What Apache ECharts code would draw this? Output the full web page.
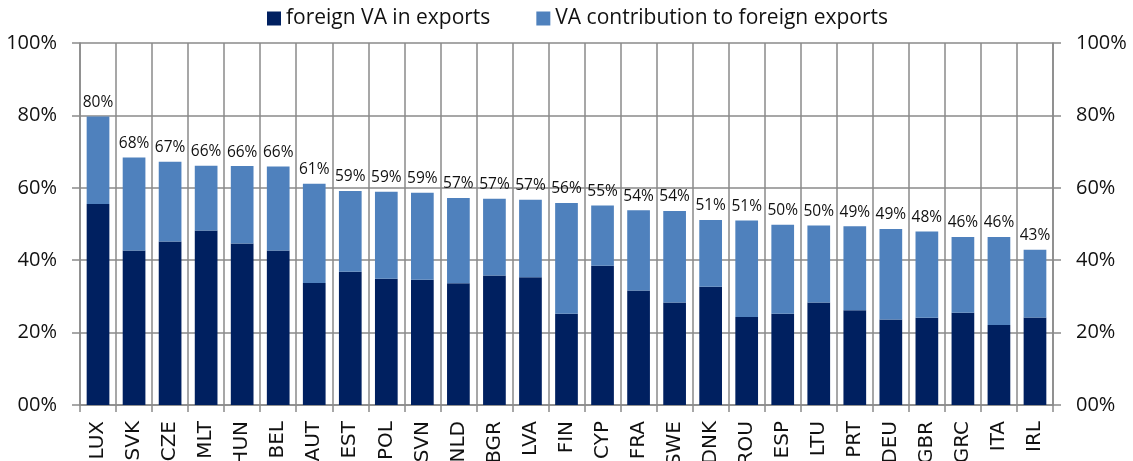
<!DOCTYPE html>
<html style="height: 100%">
<head>
    <meta charset="utf-8">
</head>
<body style="height: 100%; margin: 0; background: #fff">
<div id="container" style="width: 1133px;height: 461px"></div>

<script src="https://cdn.jsdelivr.net/npm/echarts@6/dist/echarts.min.js"></script>
<script type="text/javascript">
    var countries = ["LUX", "SVK", "CZE", "MLT", "HUN", "BEL", "AUT", "EST", "POL", "SVN", "NLD", "BGR", "LVA", "FIN",
        "CYP", "FRA", "SWE", "DNK", "ROU", "ESP", "LTU", "PRT", "DEU", "GBR", "GRC", "ITA", "IRL"];

    // foreign value added in exports (% of exports)
    var foreignVA = [55.5, 42.7, 45.2, 48.2, 44.6, 42.7, 33.7, 36.8, 34.9, 34.6, 33.6, 35.8, 35.3, 25.2,
        38.5, 31.6, 28.3, 32.7, 24.3, 25.2, 28.3, 26.2, 23.6, 24.1, 25.5, 22.1, 24.2];

    // value added contribution to foreign exports
    var vaContribution = [24.2, 25.7, 22.0, 17.9, 21.4, 23.2, 27.4, 22.3, 24.0, 24.0, 23.6, 21.2, 21.4, 30.6,
        16.6, 22.2, 25.3, 18.4, 26.7, 24.6, 21.3, 23.2, 25.0, 23.8, 20.9, 24.3, 18.7];

    var yTicks = [0, 20, 40, 60, 80, 100];

    var seriesNames = ["foreign VA in exports", "VA contribution to foreign exports"];

    var gridColor = "#8a8a8a";

    function pct(v) {
        var s = String(v);
        if (s.length < 2) s = "0" + s;
        return s + "%";
    }

    var dom = document.getElementById("container");
    var myChart = echarts.init(dom);
    var option = null;

    var yAxisBase = {
        type: 'value',
        min: yTicks[0],
        max: yTicks[yTicks.length - 1],
        interval: 20,
        axisLine: {show: true, lineStyle: {color: gridColor, width: 1.5}},
        axisTick: {show: true, length: 8, lineStyle: {color: gridColor, width: 1.5}},
        axisLabel: {
            margin: 23,
            color: "#111",
            fontFamily: "Open Sans",
            fontSize: 20,
            formatter: pct
        }
    };

    option = {
        animation: false,
        legend: {
            top: 3,
            left: 262,
            itemWidth: 14,
            itemHeight: 14,
            itemGap: 46,
            icon: 'rect',
            textStyle: {fontFamily: "Open Sans", fontSize: 21, color: "#111"},
            data: seriesNames
        },
        grid: {
            left: 80,
            right: 80,
            top: 43,
            bottom: 56,
            containLabel: false,
            outerBoundsMode: 'none'
        },
        xAxis: {
            type: 'category',
            data: countries,
            boundaryGap: true,
            axisLine: {lineStyle: {color: gridColor, width: 1.5}},
            axisTick: {show: true, length: 7, interval: 0, lineStyle: {color: gridColor, width: 1.5}},
            splitLine: {show: true, interval: 0, lineStyle: {color: gridColor, width: 1.5}},
            axisLabel: {
                interval: 0,
                rotate: 90,
                margin: 16,
                color: "#111",
                fontFamily: "DejaVu Sans",
                fontSize: 20
            }
        },
        yAxis: [
            echarts.util.merge({
                position: 'left',
                splitLine: {show: true, lineStyle: {color: gridColor, width: 1.5}}
            }, yAxisBase, true),
            echarts.util.merge({
                position: 'right',
                splitLine: {show: false}
            }, yAxisBase, true)
        ],
        series: [
            {
                name: seriesNames[0],
                type: 'bar',
                stack: 'va',
                barWidth: '63%',
                data: foreignVA,
                itemStyle: {color: "#002060"}
            },
            {
                name: seriesNames[1],
                type: 'bar',
                stack: 'va',
                barWidth: '63%',
                data: vaContribution,
                itemStyle: {color: "#4f81bd"},
                label: {
                    show: true,
                    position: 'top',
                    distance: 6,
                    color: "#111",
                    fontFamily: "Open Sans",
                    fontSize: 15.5,
                    formatter: function (params) {
                        var i = params.dataIndex;
                        return Math.round(foreignVA[i] + vaContribution[i]) + "%";
                    }
                }
            }
        ]
    };

    if (option && typeof option === "object") {
        myChart.setOption(option, true);
    }
</script>
</body>
</html>
